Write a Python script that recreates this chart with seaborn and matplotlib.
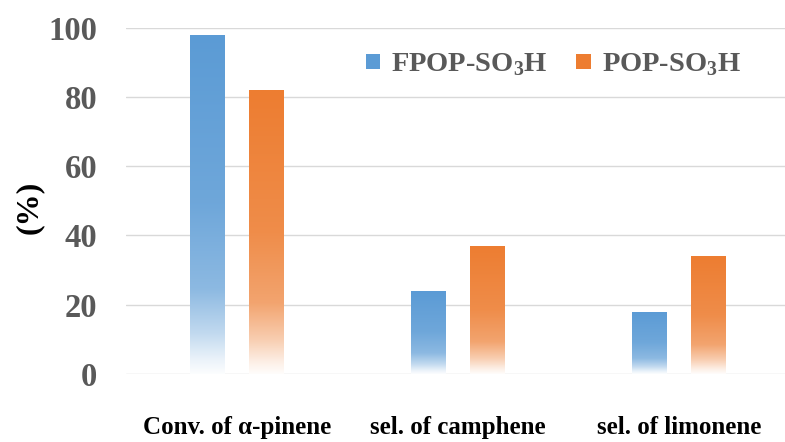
import numpy as np
import pandas as pd
import seaborn as sns
import matplotlib.pyplot as plt
from matplotlib.colors import to_rgb
from matplotlib.patches import Patch

categories = ["Conv. of α-pinene", "sel. of camphene", "sel. of limonene"]
series = ["FPOP-SO$_\\mathbf{3}$H", "POP-SO$_\\mathbf{3}$H"]
fpop_values = [98, 24, 18]
pop_values = [82, 37, 34]
colors = ["#5B9BD5", "#ED7D31"]
yticks = [0, 20, 40, 60, 80, 100]

df = pd.DataFrame({
    "category": categories * 2,
    "catalyst": [series[0]] * len(categories) + [series[1]] * len(categories),
    "value": fpop_values + pop_values,
})

sns.set_theme(style="white")
plt.rcParams['font.family'] = ['Liberation Serif', 'DejaVu Serif']
plt.rcParams['mathtext.fontset'] = 'custom'
plt.rcParams['mathtext.rm'] = 'Liberation Serif'
plt.rcParams['mathtext.bf'] = 'Liberation Serif:bold'

fig = plt.figure(figsize=(7.85, 4.42), dpi=100)
ax = fig.add_axes([0.161, 0.154, 0.8446, 0.783])

sns.barplot(data=df, x="category", y="value", hue="catalyst",
            palette=colors, saturation=1, width=0.54, gap=0.415, ax=ax,
            legend=False, errorbar=None)

ax.set_ylim(0, 100)
ax.set_xlim(-0.5, len(categories) - 0.5)
xl, yl = ax.get_xlim(), ax.get_ylim()

# gradient fill for each bar
t = np.linspace(0, 1, 256)
mix = np.interp(t, [0, 0.04, 0.12, 0.25, 0.5, 1.0], [0.02, 0.12, 0.38, 0.7, 0.88, 1.0])
for p in list(ax.patches):
    h = p.get_height()
    if h <= 0:
        continue
    c = np.array(to_rgb(p.get_facecolor()))
    img = (1 - mix[:, None]) * np.ones(3)[None, :] + mix[:, None] * c[None, :]
    img = img[:, None, :]
    x0 = p.get_x(); w = p.get_width()
    im = ax.imshow(img, origin='lower', extent=[x0, x0 + w, p.get_y(), p.get_y() + h],
                   aspect='auto', zorder=2, interpolation='bilinear')
    im.set_clip_path(p)
    p.set_facecolor('none')
    p.set_edgecolor('none')

ax.set_xlim(xl); ax.set_ylim(yl)
ax.set_yticks(yticks)
ax.yaxis.grid(True, color='#D9D9D9', lw=1)
ax.set_axisbelow(True)
for s in ax.spines.values():
    s.set_visible(False)

ax.tick_params(axis='y', length=0, pad=21, labelsize=23.5, labelcolor='#595959')
ax.tick_params(axis='x', length=0, pad=30, labelsize=18, labelcolor='black')
for lab in ax.get_yticklabels():
    lab.set_fontweight('bold')
for lab in ax.get_xticklabels():
    lab.set_fontweight('bold')

ax.set_xlabel("")
ax.set_ylabel("(%)", fontsize=23, fontweight='bold', color='black')
ax.yaxis.set_label_coords(-0.124, 0.48)

handles = [Patch(facecolor=c, edgecolor='none') for c in colors]
fig.legend(handles, series, loc='center', bbox_to_anchor=(0.705, 0.853), ncol=2,
           frameon=False, prop=dict(weight='bold', size=20.5), labelcolor='#595959',
           handlelength=0.5, handleheight=0.4, handletextpad=0.4, columnspacing=1.0)

fig.savefig("out.png", dpi=100)
